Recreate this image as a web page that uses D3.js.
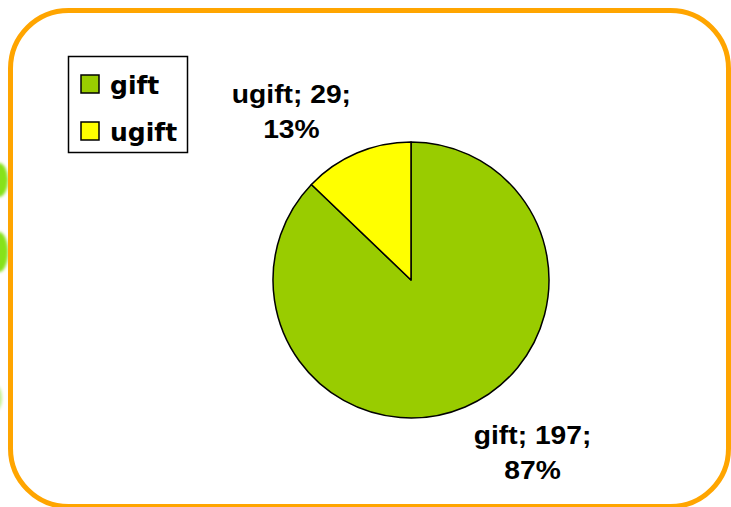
<!DOCTYPE html>
<html>
<head>
<meta charset="utf-8">
<script src="https://cdn.jsdelivr.net/npm/d3@7"></script>
<style>
  body { margin: 0; background: #ffffff; }
  #chart { width: 731px; height: 507px; }
</style>
</head>
<body>
<div id="chart"></div>
<script>
// data
const categories = ["gift", "ugift"];
const counts = [197, 29];
const sliceColors = ["#99CC00", "#FFFF00"];

function draw_gift_pie() {
  const width = 731, height = 507;
  const total = d3.sum(counts);
  const data = categories.map((c, i) => ({name: c, value: counts[i]}));

  const svg = d3.select("#chart")
    .append("svg")
      .attr("width", width)
      .attr("height", height);

  // faint green blobs from the slide background, left of the frame
  const blobs = svg.append("g").style("filter", "blur(1.5px)");
  blobs.append("ellipse").attr("cx", -1).attr("cy", 180).attr("rx", 9).attr("ry", 17).attr("fill", "#86E21A");
  blobs.append("ellipse").attr("cx", -1).attr("cy", 252).attr("rx", 9).attr("ry", 20).attr("fill", "#86E21A");
  blobs.append("ellipse").attr("cx", -3).attr("cy", 398).attr("rx", 5).attr("ry", 12).attr("fill", "#C2F090");

  // rounded orange frame
  svg.append("rect")
    .attr("x", 10.5)
    .attr("y", 10.5)
    .attr("width", 718)
    .attr("height", 496)
    .attr("rx", 58)
    .attr("ry", 58)
    .attr("fill", "#ffffff")
    .attr("stroke", "#FFA500")
    .attr("stroke-width", 5);

  const cx = 411, cy = 280, radius = 138;
  const color = d3.scaleOrdinal().domain(categories).range(sliceColors);

  const pie = d3.pie()
    .sort(null)
    .value(d => d.value);

  const arc = d3.arc()
    .innerRadius(0)
    .outerRadius(radius);

  const g = svg.append("g")
    .attr("transform", `translate(${cx}, ${cy})`);

  const arcs = pie(data);

  g.selectAll("path")
    .data(arcs)
    .join("path")
      .attr("d", arc)
      .attr("fill", d => color(d.data.name))
      .attr("stroke", "#000")
      .attr("stroke-width", 1.5)
      .attr("stroke-linejoin", "round");

  // outside labels, placed along a wider arc then nudged like Excel does
  const labelArc = d3.arc().innerRadius(radius + 70).outerRadius(radius + 70);
  const nudge = {gift: [40, -27], ugift: [-38, 14]};

  const labels = g.selectAll("text.lbl")
    .data(arcs)
    .join("text")
      .attr("class", "lbl")
      .attr("transform", d => {
        const p = labelArc.centroid(d);
        const n = nudge[d.data.name];
        return `translate(${p[0] + n[0]}, ${p[1] + n[1]}) scale(1.13, 1)`;
      })
      .attr("text-anchor", "middle")
      .style("font-family", "'Liberation Sans', Arial, sans-serif")
      .style("font-weight", "bold")
      .style("font-size", "25px")
      .attr("fill", "#000");

  labels.append("tspan")
    .attr("x", 0)
    .attr("dy", 0)
    .text(d => `${d.data.name}; ${d.data.value};`);
  labels.append("tspan")
    .attr("x", 0)
    .attr("dy", "1.4em")
    .text(d => `${Math.round(d.data.value / total * 100)}%`);

  // legend
  const legend = svg.append("g").attr("transform", "translate(68, 56)");
  legend.append("rect")
    .attr("x", 0.5).attr("y", 0.5)
    .attr("width", 119).attr("height", 96)
    .attr("fill", "#fff")
    .attr("stroke", "#000")
    .attr("stroke-width", 1.5);

  const items = legend.selectAll("g.item")
    .data(categories)
    .join("g")
      .attr("class", "item")
      .attr("transform", (d, i) => `translate(13, ${19 + i * 47})`);

  items.append("rect")
    .attr("width", 18).attr("height", 18)
    .attr("fill", d => color(d))
    .attr("stroke", "#000")
    .attr("stroke-width", 1.5);

  items.append("text")
    .attr("x", 29)
    .attr("y", 19)
    .style("font-family", "'DejaVu Sans', Verdana, sans-serif")
    .style("font-weight", "bold")
    .style("font-size", "25px")
    .attr("fill", "#000")
    .text(d => d);
}

draw_gift_pie();
</script>
</body>
</html>
